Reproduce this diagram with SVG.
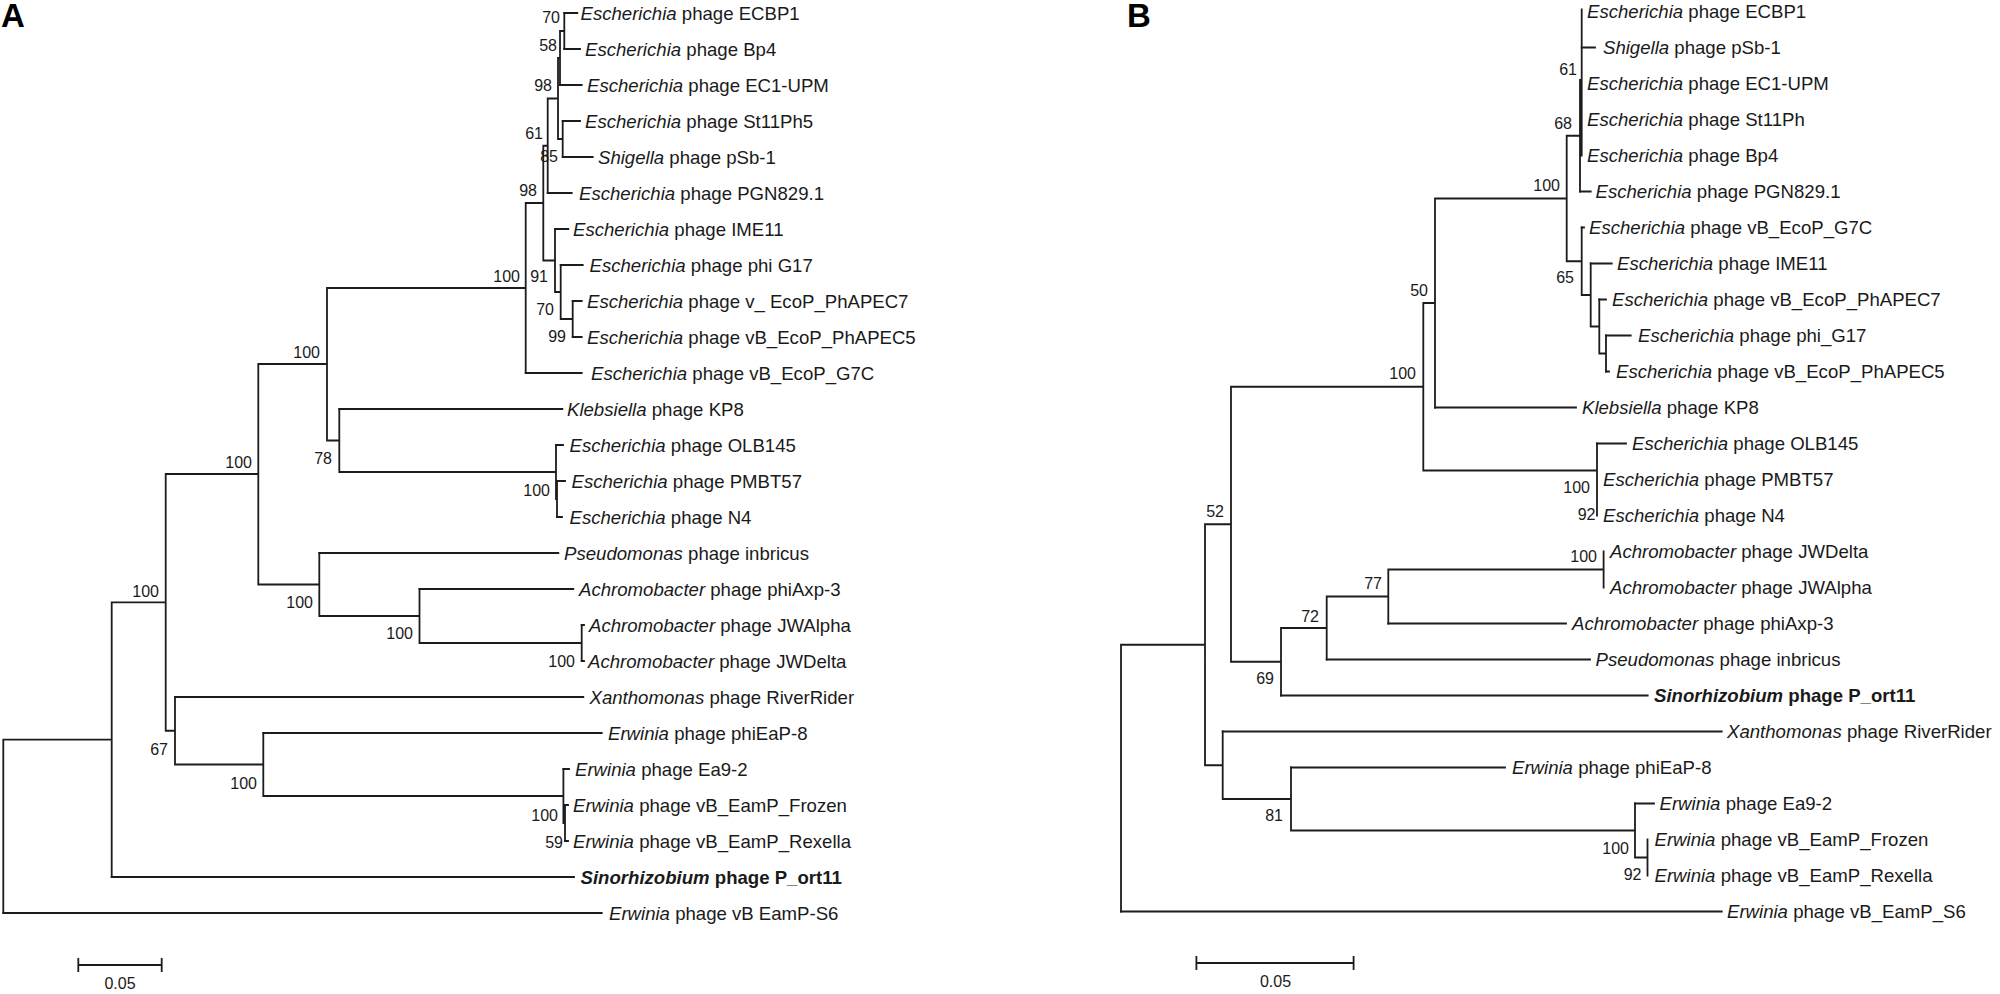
<svg xmlns="http://www.w3.org/2000/svg" width="2000" height="994" viewBox="0 0 2000 994">
<style>
.br{stroke:#1c1c1c;stroke-width:1.8;fill:none;stroke-linecap:square}
.t{font-family:"Liberation Sans",Arial,sans-serif;font-size:18.6px;fill:#1a1a1a}
.i{font-style:italic}
.b{font-weight:bold}
.bs{font-family:"Liberation Sans",Arial,sans-serif;font-size:16px;fill:#1a1a1a;text-anchor:end}
.pl{font-family:"Liberation Sans",Arial,sans-serif;font-size:33px;font-weight:bold;fill:#000}
.sc{font-family:"Liberation Sans",Arial,sans-serif;font-size:16px;fill:#1a1a1a;text-anchor:middle}
</style>
<rect width="2000" height="994" fill="#fff"/>
<text class="pl" x="1" y="27">A</text>
<text class="pl" x="1127" y="27">B</text>

<g id="connectors-A" class="br">
<path d="M564.3 13H577.3M564.3 49H580M560 85H581.7M562.7 121H580M562.7 157H592.7M547.7 193H571.7M555 229H568.3M560.7 265H582.7M572.7 301H581.7M572.7 337H581.7M525.7 373H581.7M339.3 409H562.3M556 445H563M557 481H565M557 517H562M319.3 553H558.3M419.5 589H573.3M581.7 625H584M581.7 661H584M175 697H583.3M263.3 733H601.7M563.4 769H569M565 805H568M565 841H568M111.7 877H574M3.3 913H601.7"/>
<path d="M564.3 13V49M560 31V85M560 31H564.3M562.7 121V157M558 58V139M558 58H560M558 139H562.7M547.7 98.5V193M547.7 98.5H558M572.7 301V337M560.7 265V319H572.7M555 229V292H560.7M543.3 145.75V260.5H555M543.3 145.75H547.7M525.7 203V373M525.7 203H543.3M557 481V517M556 445V499H557M339.3 409V472H556M327 288V440.5H339.3M327 288H525.7M581.7 625V661M419.5 589V643H581.7M319.3 553V616H419.5M258.3 364V584.5H319.3M258.3 364H327M565 805V841M563.4 769V823H565M263.3 733V796H563.4M175 697V764.5H263.3M165.7 474V730.75H175M165.7 474H258.3M111.7 602.4V877M111.7 602.4H165.7M3.3 739.7V913M3.3 739.7H111.7"/>
<path d="M78.3 965H161.7M78.3 959V971M161.7 959V971"/>
</g>

<g id="connectors-B" class="br">
<path d="M1581.7 47.5H1595M1580 191.5H1590.7M1581.7 227.5H1584M1590.7 263.5H1611.7M1599.3 299.5H1606M1606 335.5H1630.7M1606 371.5H1609M1435 407.5H1576M1597 443.5H1626M1388.3 623.5H1566M1326.7 659.5H1590M1281 695.5H1647.7M1222.7 731.5H1721.7M1291 767.5H1505M1635 803.5H1654M1121 911.5H1721.7"/>
<path d="M1581.7 9.5V155.5M1580 80V191.5M1580 80H1581.7M1606 335.5V371.5M1599.3 299.5V353.5H1606M1590.7 263.5V326.5H1599.3M1581.7 227.5V295H1590.7M1566.7 135.75V261.25H1581.7M1566.7 135.75H1580M1435 198.5V407.5M1435 198.5H1566.7M1597 443.5V515.5M1423.3 303V470.5H1597M1423.3 303H1435M1603.6 551.5V587.5M1388.3 569.5V623.5M1388.3 569.5H1603.6M1326.7 596.5V659.5M1326.7 596.5H1388.3M1281 628V695.5M1281 628H1326.7M1231 386.75V661.75H1281M1231 386.75H1423.3M1647.5 839.5V875.5M1635 803.5V857.5H1647.5M1291 767.5V830.5H1635M1222.7 731.5V799H1291M1205 524.25V765.25H1222.7M1205 524.25H1231M1121 644.75V911.5M1121 644.75H1205"/>
<path d="M1196.4 963H1353.6M1196.4 957V969M1353.6 957V969"/>
</g>

<g id="tips-A" class="t">
<g id="a1"><text x="580.5" y="19.5"><tspan class="i">Escherichia</tspan> phage ECBP1</text></g>
<g id="a2"><text x="585" y="55.5"><tspan class="i">Escherichia</tspan> phage Bp4</text></g>
<g id="a3"><text x="587" y="91.5"><tspan class="i">Escherichia</tspan> phage EC1-UPM</text></g>
<g id="a4"><text x="585" y="127.5"><tspan class="i">Escherichia</tspan> phage St11Ph5</text></g>
<g id="a5"><text x="598" y="163.5"><tspan class="i">Shigella</tspan> phage pSb-1</text></g>
<g id="a6"><text x="579" y="199.5"><tspan class="i">Escherichia</tspan> phage PGN829.1</text></g>
<g id="a7"><text x="573" y="235.5"><tspan class="i">Escherichia</tspan> phage IME11</text></g>
<g id="a8"><text x="589.5" y="271.5"><tspan class="i">Escherichia</tspan> phage phi G17</text></g>
<g id="a9"><text x="587" y="307.5"><tspan class="i">Escherichia</tspan> phage v_ EcoP_PhAPEC7</text></g>
<g id="a10"><text x="587" y="343.5"><tspan class="i">Escherichia</tspan> phage vB_EcoP_PhAPEC5</text></g>
<g id="a11"><text x="591" y="379.5"><tspan class="i">Escherichia</tspan> phage vB_EcoP_G7C</text></g>
<g id="a12"><text x="567" y="415.5"><tspan class="i">Klebsiella</tspan> phage KP8</text></g>
<g id="a13"><text x="569.5" y="451.5"><tspan class="i">Escherichia</tspan> phage OLB145</text></g>
<g id="a14"><text x="571.5" y="487.5"><tspan class="i">Escherichia</tspan> phage PMBT57</text></g>
<g id="a15"><text x="569.5" y="523.5"><tspan class="i">Escherichia</tspan> phage N4</text></g>
<g id="a16"><text x="564" y="559.5"><tspan class="i">Pseudomonas</tspan> phage inbricus</text></g>
<g id="a17"><text x="579" y="595.5"><tspan class="i">Achromobacter</tspan> phage phiAxp-3</text></g>
<g id="a18"><text x="589" y="631.5"><tspan class="i">Achromobacter</tspan> phage JWAlpha</text></g>
<g id="a19"><text x="588" y="667.5"><tspan class="i">Achromobacter</tspan> phage JWDelta</text></g>
<g id="a20"><text x="589.5" y="703.5"><tspan class="i">Xanthomonas</tspan> phage RiverRider</text></g>
<g id="a21"><text x="608" y="739.5"><tspan class="i">Erwinia</tspan> phage phiEaP-8</text></g>
<g id="a22"><text x="575" y="775.5"><tspan class="i">Erwinia</tspan> phage Ea9-2</text></g>
<g id="a23"><text x="573" y="811.5"><tspan class="i">Erwinia</tspan> phage vB_EamP_Frozen</text></g>
<g id="a24"><text x="573" y="847.5"><tspan class="i">Erwinia</tspan> phage vB_EamP_Rexella</text></g>
<g id="a25"><text class="b" x="580.5" y="883.5"><tspan class="i">Sinorhizobium</tspan> phage P_ort11</text></g>
<g id="a26"><text x="609" y="919.5"><tspan class="i">Erwinia</tspan> phage vB EamP-S6</text></g>
</g>

<g id="support-A" class="bs">
<text x="560" y="23">70</text>
<text x="557" y="51">58</text>
<text x="552" y="91">98</text>
<text x="543" y="139">61</text>
<text x="558" y="162">85</text>
<text x="537" y="196">98</text>
<text x="520" y="282">100</text>
<text x="548" y="282">91</text>
<text x="554" y="315">70</text>
<text x="566" y="342">99</text>
<text x="320" y="358">100</text>
<text x="332" y="464">78</text>
<text x="550" y="496">100</text>
<text x="252" y="468">100</text>
<text x="313" y="608">100</text>
<text x="413" y="639">100</text>
<text x="575" y="667">100</text>
<text x="159" y="597">100</text>
<text x="168" y="755">67</text>
<text x="257" y="789">100</text>
<text x="558" y="821">100</text>
<text x="563" y="848">59</text>
</g>
<g id="scale-A"><text class="sc" x="120" y="989">0.05</text></g>

<g id="tips-B" class="t">
<g id="b1"><text x="1587" y="18"><tspan class="i">Escherichia</tspan> phage ECBP1</text></g>
<g id="b2"><text x="1603" y="54"><tspan class="i">Shigella</tspan> phage pSb-1</text></g>
<g id="b3"><text x="1587" y="90"><tspan class="i">Escherichia</tspan> phage EC1-UPM</text></g>
<g id="b4"><text x="1587" y="126"><tspan class="i">Escherichia</tspan> phage St11Ph</text></g>
<g id="b5"><text x="1587" y="162"><tspan class="i">Escherichia</tspan> phage Bp4</text></g>
<g id="b6"><text x="1595.5" y="198"><tspan class="i">Escherichia</tspan> phage PGN829.1</text></g>
<g id="b7"><text x="1589" y="234"><tspan class="i">Escherichia</tspan> phage vB_EcoP_G7C</text></g>
<g id="b8"><text x="1617" y="270"><tspan class="i">Escherichia</tspan> phage IME11</text></g>
<g id="b9"><text x="1612" y="306"><tspan class="i">Escherichia</tspan> phage vB_EcoP_PhAPEC7</text></g>
<g id="b10"><text x="1638" y="342"><tspan class="i">Escherichia</tspan> phage phi_G17</text></g>
<g id="b11"><text x="1616" y="378"><tspan class="i">Escherichia</tspan> phage vB_EcoP_PhAPEC5</text></g>
<g id="b12"><text x="1582" y="414"><tspan class="i">Klebsiella</tspan> phage KP8</text></g>
<g id="b13"><text x="1632" y="450"><tspan class="i">Escherichia</tspan> phage OLB145</text></g>
<g id="b14"><text x="1603" y="486"><tspan class="i">Escherichia</tspan> phage PMBT57</text></g>
<g id="b15"><text x="1603" y="522"><tspan class="i">Escherichia</tspan> phage N4</text></g>
<g id="b16"><text x="1610" y="558"><tspan class="i">Achromobacter</tspan> phage JWDelta</text></g>
<g id="b17"><text x="1610" y="594"><tspan class="i">Achromobacter</tspan> phage JWAlpha</text></g>
<g id="b18"><text x="1572" y="630"><tspan class="i">Achromobacter</tspan> phage phiAxp-3</text></g>
<g id="b19"><text x="1595.5" y="666"><tspan class="i">Pseudomonas</tspan> phage inbricus</text></g>
<g id="b20"><text class="b" x="1654" y="702"><tspan class="i">Sinorhizobium</tspan> phage P_ort11</text></g>
<g id="b21"><text x="1727" y="738"><tspan class="i">Xanthomonas</tspan> phage RiverRider</text></g>
<g id="b22"><text x="1512" y="774"><tspan class="i">Erwinia</tspan> phage phiEaP-8</text></g>
<g id="b23"><text x="1659.5" y="810"><tspan class="i">Erwinia</tspan> phage Ea9-2</text></g>
<g id="b24"><text x="1654.5" y="846"><tspan class="i">Erwinia</tspan> phage vB_EamP_Frozen</text></g>
<g id="b25"><text x="1654.5" y="882"><tspan class="i">Erwinia</tspan> phage vB_EamP_Rexella</text></g>
<g id="b26"><text x="1727" y="918"><tspan class="i">Erwinia</tspan> phage vB_EamP_S6</text></g>
</g>

<g id="support-B" class="bs">
<text x="1577" y="75">61</text>
<text x="1572" y="129">68</text>
<text x="1560" y="191">100</text>
<text x="1574" y="283">65</text>
<text x="1428" y="296">50</text>
<text x="1416" y="379">100</text>
<text x="1224" y="517">52</text>
<text x="1590" y="493">100</text>
<text x="1595.5" y="520">92</text>
<text x="1597" y="561.5">100</text>
<text x="1382" y="589">77</text>
<text x="1319" y="622">72</text>
<text x="1274" y="684">69</text>
<text x="1283" y="821">81</text>
<text x="1629" y="854">100</text>
<text x="1641.5" y="880">92</text>
</g>
<g id="scale-B"><text class="sc" x="1275.5" y="987">0.05</text></g>
</svg>
